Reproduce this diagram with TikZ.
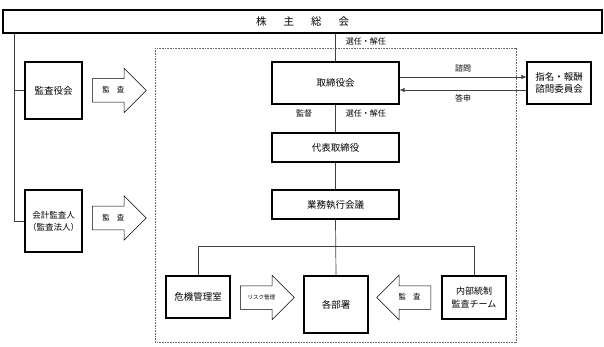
\documentclass[tikz,border=0pt]{standalone}
\usepackage{fontspec}
\setmainfont{Noto Sans CJK JP}
\usetikzlibrary{positioning, shapes.arrows, arrows.meta}

\tikzset{
  box/.style={draw, line width=1.1pt, align=center, inner sep=0pt,
    font=\fontsize{9.5}{12.5}\selectfont},
  link/.style={draw=black!75, line width=0.7pt},
  lbl/.style={inner sep=0pt, font=\fontsize{8}{9}\selectfont},
  blockarrow/.style={single arrow, draw, line width=0.5pt, minimum height=54pt,
    single arrow head extend=10.5pt, inner xsep=2pt, inner ysep=7.75pt,
    text height=6pt, text depth=1.5pt, font=\fontsize{7.5}{8}\selectfont}
}

\begin{document}
\begin{tikzpicture}[x=1pt, y=-1pt]
  \useasboundingbox (0,0) rectangle (604,347);
  % executive area
  \draw[black!60, line width=0.6pt, dash pattern=on 0.8pt off 0.8pt] (155,48) rectangle (516,342);
  % boxes
  \node[box, minimum width=599pt, minimum height=23pt, font=\fontsize{10.5}{12}\selectfont]
    (soukai) at (302.5,21.5) {株\hspace{17pt}主\hspace{17pt}総\hspace{17pt}会};
  \node[box, minimum width=57pt, minimum height=57pt] (kansayaku) at (53.5,90.5) {監査役会};
  \node[box, minimum width=57pt, minimum height=62pt, font=\fontsize{8.5}{12}\selectfont]
    (kaikei) at (53.5,221) {会計監査人\\（監査法人）};
  \node[box, minimum width=127pt, minimum height=42pt] (torishimari) at (335.5,83) {取締役会};
  \node[box, minimum width=127pt, minimum height=29pt] (daihyo) at (335.5,147.5) {代表取締役};
  \node[box, minimum width=127pt, minimum height=29pt] (gyomu) at (335.5,204.5) {業務執行会議};
  \node[box, minimum width=64pt, minimum height=42pt] (shimei) at (559,83) {指名・報酬\\諮問委員会};
  \node[box, minimum width=64pt, minimum height=42pt] (kiki) at (198,297) {危機管理室};
  \node[box, minimum width=64pt, minimum height=57pt] (kakubusho) at (336,304.5) {各部署};
  \node[box, minimum width=64pt, minimum height=43pt, font=\fontsize{9}{12.5}\selectfont]
    (naibu) at (474,297.5) {内部統制\\監査チーム};
  % block arrows
  \node[blockarrow, anchor=tail] (audit1) at (92,90.5) {監\hspace{7pt}査};
  \node[blockarrow, anchor=tail] (audit2) at (92,218) {監\hspace{7pt}査};
  \node[blockarrow, anchor=tail, font=\fontsize{5.5}{6}\selectfont] (risk) at (240,297.5) {リスク管理};
  \node[blockarrow, anchor=tail, shape border rotate=180] (audit3) at (431,297.5) {監\hspace{7pt}査};
  % connectors
  \coordinate (bus) at (14,0);
  \draw[link] (soukai.south -| bus) |- (kaikei.west);
  \draw[link] (bus |- kansayaku.west) -- (kansayaku.west);
  \draw[link] (soukai.south -| torishimari.north) -- (torishimari.north)
    node[lbl, pos=0.28, right=10pt] {選任・解任};
  \draw[link] (torishimari.south) -- (daihyo.north)
    node[lbl, pos=0.31, right=10pt] {選任・解任}
    node[lbl, pos=0.31, left=23pt] {監督};
  \draw[link] (daihyo.south) -- (gyomu.north);
  \draw[link] (gyomu.south) -- (kakubusho.north);
  \draw[link] (kiki.north) -- ++(0,-29) -| (naibu.north);
  \draw[link, -{Latex[length=5pt, width=4.5pt]}] ([yshift=6pt]torishimari.east)
    -- ([yshift=6pt]torishimari.east -| shimei.west) node[lbl, midway, above=4pt] {諮問};
  \draw[link, -{Latex[length=5pt, width=4.5pt]}] ([yshift=-7pt]torishimari.east -| shimei.west)
    -- ([yshift=-7pt]torishimari.east) node[lbl, midway, below=4pt] {答申};
\end{tikzpicture}
\end{document}
